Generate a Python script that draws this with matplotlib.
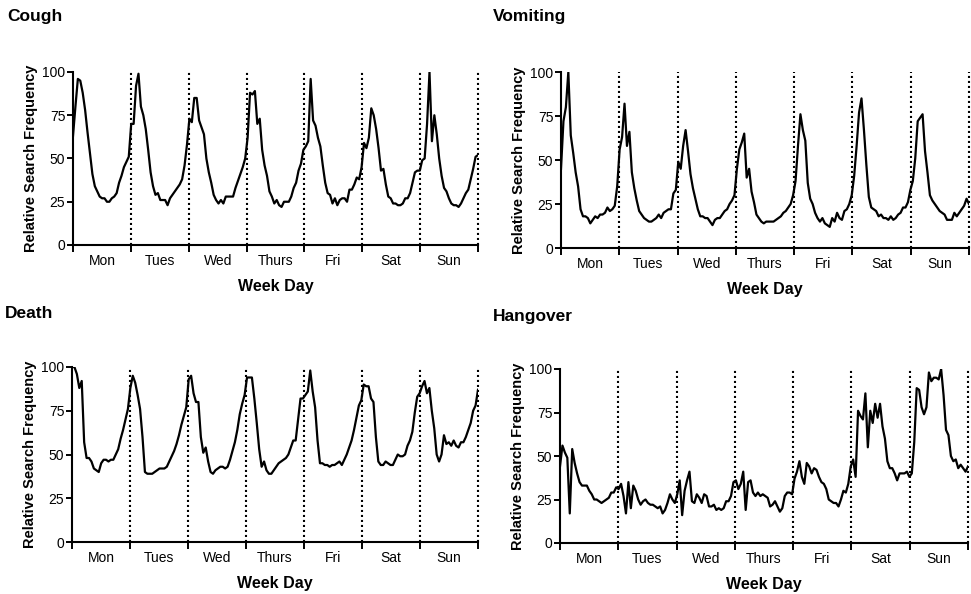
import numpy as np
import matplotlib.pyplot as plt

plt.rcParams['font.family'] = ['Liberation Sans', 'DejaVu Sans']

days = ['Mon', 'Tues', 'Wed', 'Thurs', 'Fri', 'Sat', 'Sun']

# hourly relative search frequency, Mon 00h .. Sun 23h (one row per day)
cough = [
    63, 80, 96, 95, 88, 78, 65, 53, 41, 34, 31, 28, 27, 27, 25, 25, 27, 28, 30, 36, 40, 45, 48, 51,
    70, 70, 92, 99, 80, 75, 67, 55, 42, 34, 29, 30, 26, 26, 26, 23, 27, 29, 31, 33, 35, 38, 46, 58,
    73, 71, 85, 85, 72, 68, 64, 50, 42, 36, 29, 26, 24, 26, 24, 28, 28, 28, 28, 33, 37, 41, 45, 50,
    62, 88, 87, 89, 70, 73, 55, 46, 40, 31, 28, 24, 26, 23, 22, 25, 25, 25, 28, 33, 36, 43, 47, 55,
    57, 60, 96, 72, 69, 62, 57, 46, 36, 30, 29, 24, 27, 23, 26, 27, 27, 25, 32, 32, 35, 39, 38, 45,
    59, 56, 62, 79, 75, 67, 56, 43, 44, 35, 28, 27, 24, 24, 23, 23, 24, 27, 27, 30, 36, 42, 43, 43,
    49, 50, 70, 100, 60, 75, 64, 50, 40, 33, 31, 27, 24, 23, 23, 22, 24, 27, 30, 32, 38, 44, 51, 52,
]

vomiting = [
    45, 72, 80, 100, 64, 54, 43, 35, 22, 18, 18, 17, 14, 16, 18, 17, 19, 19, 20, 23, 21, 22, 24, 35,
    56, 63, 82, 58, 66, 43, 34, 27, 21, 19, 17, 16, 15, 15, 16, 17, 19, 17, 20, 21, 22, 22, 31, 33,
    49, 45, 58, 67, 55, 42, 34, 28, 22, 18, 18, 17, 17, 15, 13, 16, 17, 17, 19, 21, 22, 25, 27, 30,
    45, 56, 60, 65, 40, 45, 32, 26, 19, 17, 15, 14, 15, 15, 15, 15, 16, 17, 18, 20, 21, 23, 25, 30,
    38, 58, 76, 67, 61, 37, 28, 25, 20, 17, 15, 17, 14, 13, 12, 17, 15, 20, 17, 16, 21, 22, 25, 30,
    41, 58, 77, 85, 67, 47, 29, 23, 22, 21, 18, 19, 17, 17, 16, 18, 16, 17, 19, 20, 23, 23, 26, 33,
    38, 51, 72, 74, 76, 55, 43, 30, 27, 25, 23, 21, 20, 19, 16, 16, 16, 20, 18, 20, 22, 24, 28, 25,
]

death = [
    100, 100, 96, 88, 92, 57, 48, 48, 46, 42, 41, 40, 45, 47, 47, 46, 47, 47, 50, 53, 59, 64, 70, 76,
    88, 95, 91, 84, 76, 60, 40, 39, 39, 39, 40, 41, 42, 42, 42, 43, 46, 49, 52, 56, 61, 67, 72, 77,
    93, 95, 85, 80, 80, 60, 51, 54, 46, 40, 39, 41, 42, 43, 43, 42, 43, 47, 52, 57, 64, 73, 79, 84,
    94, 94, 94, 82, 68, 53, 43, 46, 41, 39, 39, 41, 43, 45, 46, 47, 48, 50, 54, 58, 58, 70, 82, 82,
    84, 86, 98, 86, 77, 58, 45, 45, 44, 44, 43, 44, 44, 45, 46, 44, 47, 50, 54, 58, 64, 71, 78, 81,
    90, 89, 89, 82, 80, 60, 46, 44, 44, 46, 45, 44, 44, 47, 50, 49, 49, 50, 55, 58, 63, 74, 83, 85,
    89, 92, 85, 88, 75, 65, 50, 46, 50, 61, 56, 57, 55, 58, 55, 54, 57, 57, 60, 64, 68, 75, 78, 87,
]

hangover = [
    44, 56, 52, 49, 17, 54, 46, 40, 35, 33, 33, 33, 30, 28, 25, 25, 24, 23, 24, 25, 26, 29, 29, 32,
    31, 34, 27, 17, 35, 20, 33, 30, 25, 22, 24, 25, 23, 22, 22, 21, 20, 21, 17, 19, 23, 28, 25, 23,
    28, 36, 16, 30, 36, 41, 24, 23, 28, 26, 23, 28, 27, 21, 21, 22, 19, 20, 19, 20, 24, 24, 27, 35,
    36, 31, 34, 41, 19, 35, 36, 29, 27, 29, 27, 28, 27, 26, 21, 22, 24, 21, 18, 20, 27, 29, 29, 28,
    37, 41, 47, 38, 34, 46, 44, 40, 43, 42, 38, 35, 34, 31, 25, 24, 23, 23, 21, 25, 30, 29, 34, 44,
    48, 38, 76, 73, 71, 86, 55, 76, 69, 80, 72, 80, 67, 60, 47, 43, 43, 40, 36, 40, 40, 40, 41, 38,
    40, 58, 89, 88, 78, 74, 78, 98, 93, 95, 95, 94, 100, 85, 65, 62, 50, 47, 48, 43, 45, 43, 41, 44,
]

panels = [
    ('Cough', cough, [73, 72, 478, 245], (7, 17)),
    ('Vomiting', vomiting, [561, 72, 969, 248], (493, 17)),
    ('Death', death, [72, 367, 478, 542], (5, 313)),
    ('Hangover', hangover, [560, 369, 968, 543], (493, 316)),
]

W, H = 971, 594
fig = plt.figure(figsize=(W / 100, H / 100), dpi=100)

for title, vals, (x0, y0, x1, y1), (tx, ty) in panels:
    ax = fig.add_axes([x0 / W, 1 - y1 / H, (x1 - x0) / W, (y1 - y0) / H])
    n = len(vals)
    hours = np.linspace(0, 7 * 24, n)
    ax.plot(hours, vals, color='black', lw=1.6, zorder=3)

    for d in range(1, 8):
        ax.axvline(d * 24, color='black', lw=1.5, ls=(0, (1, 1.4)), zorder=2, clip_on=False)

    ax.set_xlim(0, 168)
    ax.set_ylim(0, 100)
    ax.set_yticks([0, 25, 50, 75, 100])
    ax.set_xticks(np.arange(0, 169, 24))
    ax.set_xticklabels([])
    ax.set_xticks(np.arange(12, 168, 24), minor=True)
    ax.set_xticklabels(days, minor=True)
    ax.tick_params(axis='x', which='minor', length=0, pad=6.5, labelsize=10)
    ax.tick_params(axis='both', which='major', length=4, width=1.4, labelsize=10, pad=1.5)
    ax.tick_params(axis='x', which='major', length=5)

    for s in ['top', 'right']:
        ax.spines[s].set_visible(False)
    for s in ['left', 'bottom']:
        ax.spines[s].set_linewidth(1.5)

    ax.set_ylabel('Relative Search Frequency', fontsize=10.5, fontweight='bold', labelpad=3)
    ax.set_xlabel('Week Day', fontsize=11.5, fontweight='bold', labelpad=8)

    fig.text(tx / W, 1 - ty / H, title, fontsize=12.5, fontweight='bold',
             ha='left', va='center')

fig.savefig('out.png', dpi=100)
